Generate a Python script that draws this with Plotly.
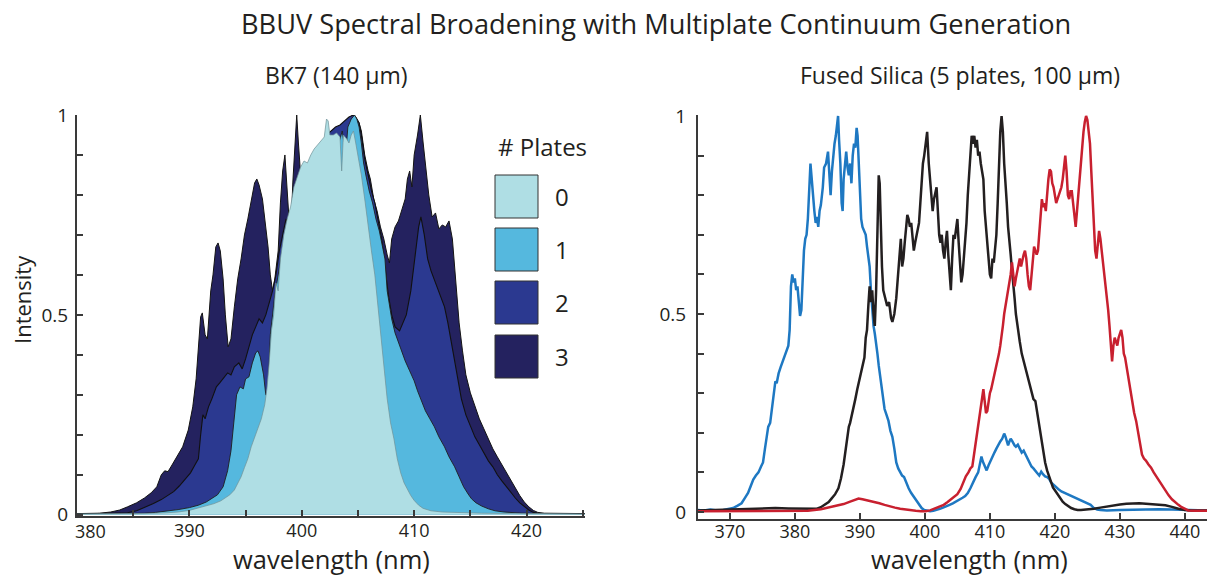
import plotly.graph_objects as go

# ---------------- BK7 (140 um): spectra after 0..3 plates ----------------
wl_p0 = [380.0, 383.0, 386.0, 388.0, 389.0, 390.0, 391.0, 391.6, 392.2, 392.8, 393.2, 393.6, 394.0, 394.3,
         394.6, 394.9, 395.2, 395.5, 395.8, 396.1, 396.4, 396.7, 396.9, 397.1, 397.3, 397.5, 397.7, 397.9,
         398.1, 398.4, 398.7, 399.0, 399.3, 399.6, 399.9, 400.2, 400.5, 400.8, 401.1, 401.4, 401.7, 402.0,
         402.2, 402.35, 402.5, 402.8, 403.1, 403.4, 403.55, 403.7, 404.0, 404.2, 404.4, 404.6, 404.8, 405.0,
         405.3, 405.6, 405.9, 406.2, 406.5, 406.8, 407.0, 407.3, 407.6, 407.9, 408.2, 408.5, 408.8, 409.1,
         409.4, 409.7, 410.0, 410.4, 410.8, 411.5, 412.5, 414.0, 416.0, 419.0, 422.0, 425.2]
int_p0 = [0.002, 0.002, 0.003, 0.005, 0.007, 0.011, 0.018, 0.022, 0.028, 0.035, 0.042, 0.050, 0.062, 0.080,
          0.095, 0.118, 0.140, 0.170, 0.195, 0.215, 0.240, 0.275, 0.315, 0.380, 0.460, 0.500, 0.580, 0.560,
          0.640, 0.700, 0.740, 0.770, 0.820, 0.845, 0.870, 0.885, 0.880, 0.900, 0.915, 0.925, 0.935, 0.945,
          0.990, 0.985, 0.950, 0.950, 0.955, 0.945, 0.860, 0.950, 0.940, 0.930, 0.950, 0.960, 0.930, 0.900,
          0.850, 0.790, 0.720, 0.660, 0.600, 0.520, 0.460, 0.380, 0.290, 0.230, 0.190, 0.140, 0.105, 0.080,
          0.063, 0.048, 0.036, 0.024, 0.016, 0.010, 0.007, 0.005, 0.004, 0.003, 0.002, 0.002]

wl_p1 = [380.0, 384.0, 386.0, 387.0, 388.0, 389.0, 390.0, 390.8, 391.5, 392.0, 392.5, 393.0, 393.4, 393.7,
         394.0, 394.2, 394.5, 394.8, 395.0, 395.3, 395.6, 395.9, 396.1, 396.3, 396.6, 396.8, 397.0, 397.2,
         397.6, 398.0, 398.5, 399.0, 399.5, 400.0, 400.5, 401.0, 401.5, 402.0, 402.5, 403.0, 403.3, 403.6,
         403.9, 404.1, 404.4, 404.7, 404.9, 405.1, 405.3, 405.5, 405.7, 406.0, 406.3, 406.6, 406.9, 407.2,
         407.4, 407.6, 407.8, 408.0, 408.3, 408.6, 408.9, 409.2, 409.6, 410.0, 410.3, 410.7, 411.0, 411.4,
         411.8, 412.2, 412.7, 413.1, 413.6, 414.0, 414.4, 414.8, 415.1, 415.5, 416.0, 416.6, 417.2, 418.0,
         419.6, 422.0, 425.2]
int_p1 = [0.002, 0.003, 0.004, 0.006, 0.009, 0.013, 0.018, 0.024, 0.032, 0.040, 0.050, 0.070, 0.110, 0.160,
          0.240, 0.300, 0.320, 0.315, 0.340, 0.345, 0.380, 0.405, 0.410, 0.395, 0.350, 0.300, 0.300, 0.450,
          0.550, 0.620, 0.700, 0.760, 0.800, 0.840, 0.860, 0.880, 0.900, 0.930, 0.940, 0.950, 0.930, 0.960,
          0.900, 0.970, 0.990, 1.000, 0.990, 0.970, 0.930, 0.880, 0.850, 0.810, 0.780, 0.740, 0.710, 0.670,
          0.640, 0.560, 0.520, 0.490, 0.455, 0.430, 0.410, 0.385, 0.360, 0.335, 0.310, 0.280, 0.260, 0.240,
          0.220, 0.195, 0.170, 0.145, 0.120, 0.095, 0.070, 0.052, 0.040, 0.030, 0.022, 0.015, 0.010, 0.007,
          0.004, 0.003, 0.002]

wl_p2 = [380.0, 383.0, 384.5, 385.3, 386.0, 386.8, 387.5, 388.1, 388.6, 389.1, 389.6, 390.1, 390.5, 390.8,
         391.0, 391.2, 391.4, 391.7, 392.0, 392.4, 392.7, 393.1, 393.4, 393.7, 394.0, 394.4, 394.7, 395.0,
         395.3, 395.6, 395.9, 396.2, 396.5, 396.8, 397.1, 397.4, 397.7, 398.0, 398.3, 398.6, 398.9, 399.2,
         399.5, 399.8, 400.1, 400.4, 400.7, 401.0, 401.3, 401.6, 401.9, 402.2, 402.6, 403.0, 403.4, 403.8,
         404.2, 404.6, 404.9, 405.1, 405.3, 405.6, 405.9, 406.2, 406.5, 406.8, 407.1, 407.4, 407.7, 408.0,
         408.3, 408.7, 409.0, 409.3, 409.7, 410.1, 410.4, 410.6, 410.9, 411.2, 411.5, 411.9, 412.3, 412.7,
         413.0, 413.3, 413.6, 413.9, 414.2, 414.6, 415.0, 415.4, 415.8, 416.2, 416.6, 417.0, 417.4, 417.8,
         418.2, 418.6, 419.0, 419.4, 419.8, 420.2, 420.6, 421.0, 422.0, 425.2]
int_p2 = [0.002, 0.003, 0.005, 0.010, 0.018, 0.028, 0.038, 0.048, 0.058, 0.072, 0.088, 0.105, 0.125, 0.140,
          0.200, 0.250, 0.240, 0.270, 0.290, 0.320, 0.330, 0.345, 0.355, 0.350, 0.370, 0.380, 0.365, 0.390,
          0.420, 0.450, 0.470, 0.490, 0.480, 0.500, 0.530, 0.560, 0.600, 0.660, 0.700, 0.740, 0.720, 0.760,
          0.800, 0.790, 0.800, 0.820, 0.830, 0.840, 0.830, 0.860, 0.890, 0.950, 0.960, 0.970, 0.975, 0.985,
          0.995, 1.000, 0.990, 0.980, 0.950, 0.890, 0.850, 0.810, 0.780, 0.730, 0.690, 0.620, 0.550, 0.500,
          0.470, 0.460, 0.480, 0.500, 0.560, 0.650, 0.720, 0.745, 0.700, 0.640, 0.610, 0.580, 0.550, 0.520,
          0.480, 0.430, 0.380, 0.330, 0.290, 0.250, 0.220, 0.195, 0.175, 0.155, 0.135, 0.120, 0.100, 0.085,
          0.070, 0.055, 0.042, 0.030, 0.020, 0.012, 0.006, 0.004, 0.003, 0.002]

wl_p3 = [380.0, 381.0, 382.0, 383.0, 383.8, 384.5, 385.3, 386.0, 386.6, 387.1, 387.5, 387.8, 388.1, 388.4,
         388.9, 389.4, 389.9, 390.3, 390.6, 390.8, 391.0, 391.15, 391.4, 391.6, 391.9, 392.1, 392.35, 392.55,
         392.75, 393.0, 393.2, 393.45, 393.7, 394.0, 394.3, 394.6, 394.9, 395.2, 395.5, 395.8, 396.0, 396.2,
         396.5, 396.8, 397.0, 397.2, 397.4, 397.6, 397.9, 398.1, 398.3, 398.5, 398.7, 398.9, 399.0, 399.2,
         399.4, 399.55, 399.7, 399.9, 400.1, 400.3, 400.5, 400.7, 400.9, 401.1, 401.3, 401.5, 401.8, 402.1,
         402.5, 403.0, 403.5, 404.0, 404.3, 404.5, 404.8, 405.1, 405.3, 405.6, 405.9, 406.1, 406.4, 406.7,
         407.0, 407.3, 407.6, 407.8, 408.0, 408.3, 408.6, 408.9, 409.2, 409.4, 409.6, 409.8, 410.0, 410.3,
         410.55, 410.8, 411.0, 411.3, 411.6, 411.9, 412.2, 412.5, 412.8, 413.1, 413.4, 413.6, 413.8, 414.0,
         414.3, 414.6, 415.0, 415.4, 415.8, 416.2, 416.6, 417.0, 417.4, 417.8, 418.2, 418.6, 419.0, 419.4,
         419.8, 420.2, 420.6, 421.0, 421.6, 423.0, 425.2]
int_p3 = [0.003, 0.003, 0.004, 0.007, 0.012, 0.020, 0.030, 0.042, 0.055, 0.070, 0.100, 0.110, 0.108, 0.122,
          0.145, 0.170, 0.212, 0.270, 0.340, 0.420, 0.495, 0.505, 0.450, 0.440, 0.560, 0.600, 0.670, 0.680,
          0.660, 0.590, 0.500, 0.420, 0.440, 0.520, 0.590, 0.640, 0.700, 0.740, 0.790, 0.830, 0.840, 0.825,
          0.790, 0.720, 0.670, 0.600, 0.560, 0.590, 0.660, 0.780, 0.860, 0.900, 0.800, 0.700, 0.680, 0.830,
          0.930, 1.000, 0.930, 0.850, 0.820, 0.810, 0.860, 0.870, 0.850, 0.800, 0.830, 0.860, 0.880, 0.900,
          0.920, 0.940, 0.960, 0.980, 0.995, 1.000, 0.995, 0.980, 0.960, 0.900, 0.860, 0.840, 0.790, 0.760,
          0.720, 0.690, 0.650, 0.630, 0.690, 0.720, 0.735, 0.760, 0.790, 0.840, 0.860, 0.820, 0.900, 0.950,
          1.000, 0.930, 0.880, 0.800, 0.745, 0.755, 0.715, 0.725, 0.720, 0.735, 0.690, 0.620, 0.560, 0.480,
          0.410, 0.350, 0.305, 0.270, 0.240, 0.215, 0.190, 0.165, 0.145, 0.125, 0.105, 0.085, 0.065, 0.048,
          0.032, 0.020, 0.011, 0.006, 0.004, 0.003, 0.003]

plate_labels = ["0", "1", "2", "3"]
plate_colors = ["#AFDEE4", "#55B8DE", "#2B3990", "#24225F"]
plate_edges = ["#6E9096", "#1E1E1E", "#111111", "#141414"]
plate_edge_widths = [0.7, 0.9, 1.1, 1.0]

bk7_ticks = [380, 390, 400, 410, 420]

# ---------------- Fused silica (5 plates, 100 um): three spectra ----------------
wl_blue = [365.0, 366.0, 367.0, 368.0, 369.0, 369.8, 370.5, 371.2, 371.8, 372.3, 372.8, 373.2, 373.6, 374.0,
           374.4, 374.8, 375.1, 375.4, 375.7, 375.9, 376.2, 376.5, 376.8, 377.0, 377.2, 377.5, 377.8, 378.1,
           378.4, 378.7, 379.0, 379.2, 379.4, 379.6, 379.8, 380.0, 380.2, 380.4, 380.6, 380.8, 381.0, 381.2,
           381.4, 381.6, 381.8, 382.0, 382.2, 382.4, 382.6, 382.8, 383.0, 383.2, 383.4, 383.6, 383.8, 384.0,
           384.3, 384.5, 384.8, 385.1, 385.3, 385.5, 385.7, 385.9, 386.1, 386.3, 386.5, 386.65, 386.8, 387.0,
           387.2, 387.35, 387.5, 387.7, 387.9, 388.1, 388.3, 388.5, 388.7, 388.9, 389.1, 389.3, 389.5, 389.65,
           389.8, 390.0, 390.2, 390.4, 390.6, 390.9, 391.1, 391.3, 391.5, 391.7, 391.9, 392.1, 392.3, 392.5,
           392.7, 392.9, 393.2, 393.5, 393.8, 394.1, 394.4, 394.7, 395.0, 395.3, 395.6, 395.9, 396.2, 396.5,
           396.8, 397.1, 397.5, 397.9, 398.3, 398.7, 399.1, 399.5, 399.9, 400.3, 400.8, 401.3, 401.8, 402.3,
           402.8, 403.3, 403.8, 404.3, 404.8, 405.3, 405.8, 406.2, 406.6, 407.0, 407.4, 407.8, 408.2, 408.5,
           408.7, 408.9, 409.2, 409.5, 409.8, 410.1, 410.4, 410.7, 411.0, 411.3, 411.6, 411.9, 412.2, 412.4,
           412.6, 412.8, 413.0, 413.2, 413.4, 413.6, 413.8, 414.0, 414.3, 414.6, 414.9, 415.2, 415.5, 415.8,
           416.1, 416.4, 416.7, 417.0, 417.3, 417.6, 417.9, 418.2, 418.5, 418.8, 419.1, 419.4, 419.7, 420.0,
           420.5, 421.0, 421.5, 422.0, 422.5, 423.0, 423.5, 424.0, 424.5, 425.0, 425.5, 426.0, 426.5, 427.0,
           428.0, 430.0, 432.0, 434.0, 436.0, 438.0, 440.0, 442.0, 443.4]
int_blue = [0.005, 0.004, 0.006, 0.004, 0.005, 0.007, 0.010, 0.016, 0.022, 0.035, 0.048, 0.065, 0.082, 0.092,
            0.100, 0.115, 0.125, 0.160, 0.200, 0.215, 0.225, 0.260, 0.300, 0.330, 0.325, 0.350, 0.365, 0.380,
            0.395, 0.405, 0.420, 0.460, 0.570, 0.600, 0.580, 0.590, 0.560, 0.570, 0.530, 0.495, 0.510, 0.600,
            0.660, 0.690, 0.700, 0.740, 0.820, 0.880, 0.840, 0.790, 0.760, 0.730, 0.745, 0.720, 0.760, 0.775,
            0.820, 0.870, 0.880, 0.910, 0.840, 0.800, 0.860, 0.900, 0.930, 0.950, 0.980, 1.000, 0.940, 0.880,
            0.780, 0.760, 0.840, 0.880, 0.910, 0.870, 0.850, 0.880, 0.830, 0.900, 0.930, 0.920, 0.970, 0.950,
            0.880, 0.800, 0.740, 0.720, 0.710, 0.700, 0.670, 0.650, 0.620, 0.560, 0.500, 0.470, 0.450, 0.430,
            0.400, 0.370, 0.330, 0.290, 0.260, 0.245, 0.230, 0.205, 0.190, 0.160, 0.125, 0.110, 0.100, 0.092,
            0.088, 0.075, 0.060, 0.048, 0.038, 0.028, 0.018, 0.010, 0.005, 0.003, 0.002, 0.003, 0.005, 0.008,
            0.011, 0.014, 0.018, 0.022, 0.026, 0.031, 0.036, 0.040, 0.048, 0.060, 0.075, 0.088, 0.100, 0.130,
            0.140, 0.128, 0.115, 0.105, 0.118, 0.130, 0.140, 0.150, 0.160, 0.170, 0.178, 0.185, 0.198, 0.190,
            0.175, 0.168, 0.178, 0.185, 0.180, 0.172, 0.168, 0.165, 0.170, 0.160, 0.150, 0.155, 0.145, 0.132,
            0.122, 0.115, 0.110, 0.105, 0.098, 0.092, 0.102, 0.095, 0.090, 0.088, 0.084, 0.075, 0.070, 0.066,
            0.058, 0.052, 0.048, 0.044, 0.040, 0.036, 0.032, 0.030, 0.026, 0.022, 0.018, 0.010, 0.006, 0.005,
            0.004, 0.005, 0.006, 0.006, 0.007, 0.006, 0.005, 0.004, 0.004]

wl_black = [365.0, 367.0, 369.0, 371.0, 373.0, 375.0, 377.0, 379.0, 381.0, 382.5, 383.3, 384.0, 384.6, 385.2,
            385.7, 386.2, 386.7, 387.1, 387.5, 387.8, 388.1, 388.3, 388.5, 388.8, 389.0, 389.3, 389.6, 389.9,
            390.2, 390.5, 390.7, 390.9, 391.1, 391.3, 391.5, 391.7, 391.9, 392.1, 392.3, 392.5, 392.7, 392.9,
            393.05, 393.2, 393.4, 393.6, 393.9, 394.2, 394.5, 394.8, 395.0, 395.3, 395.6, 395.9, 396.1, 396.3,
            396.5, 396.7, 396.9, 397.1, 397.3, 397.5, 397.7, 397.9, 398.1, 398.3, 398.5, 398.7, 398.9, 399.1,
            399.3, 399.5, 399.7, 399.9, 400.1, 400.35, 400.6, 400.8, 401.0, 401.2, 401.4, 401.6, 401.8, 402.0,
            402.2, 402.4, 402.6, 402.8, 403.0, 403.2, 403.4, 403.6, 403.8, 404.0, 404.2, 404.4, 404.6, 404.8,
            405.0, 405.2, 405.4, 405.6, 405.8, 406.0, 406.2, 406.4, 406.6, 406.8, 407.0, 407.2, 407.4, 407.6,
            407.8, 408.0, 408.2, 408.4, 408.6, 408.8, 409.0, 409.2, 409.4, 409.6, 409.8, 410.0, 410.2, 410.4,
            410.6, 410.8, 411.0, 411.2, 411.4, 411.6, 411.8, 412.0, 412.2, 412.4, 412.6, 412.8, 413.0, 413.2,
            413.4, 413.6, 413.8, 414.0, 414.3, 414.6, 414.9, 415.2, 415.5, 415.8, 416.1, 416.4, 416.7, 417.0,
            417.3, 417.6, 417.9, 418.2, 418.5, 418.8, 419.1, 419.4, 419.7, 420.0, 420.4, 420.8, 421.2, 421.6,
            422.0, 422.5, 423.0, 423.5, 424.0, 425.0, 426.0, 427.0, 428.0, 429.0, 430.0, 431.0, 432.0, 433.0,
            434.0, 435.0, 436.0, 437.0, 438.0, 439.0, 440.0, 441.0, 443.4]
int_black = [0.004, 0.005, 0.006, 0.007, 0.008, 0.009, 0.010, 0.009, 0.008, 0.007, 0.008, 0.012, 0.018, 0.025,
             0.035, 0.045, 0.060, 0.085, 0.120, 0.160, 0.195, 0.215, 0.225, 0.245, 0.260, 0.285, 0.310, 0.330,
             0.350, 0.370, 0.390, 0.440, 0.460, 0.520, 0.570, 0.530, 0.560, 0.500, 0.470, 0.560, 0.700, 0.850,
             0.830, 0.720, 0.620, 0.560, 0.540, 0.520, 0.530, 0.490, 0.480, 0.500, 0.540, 0.600, 0.650, 0.690,
             0.620, 0.640, 0.680, 0.720, 0.750, 0.740, 0.720, 0.730, 0.700, 0.660, 0.680, 0.700, 0.710, 0.730,
             0.780, 0.840, 0.880, 0.900, 0.930, 0.960, 0.880, 0.840, 0.780, 0.760, 0.790, 0.810, 0.820, 0.760,
             0.700, 0.680, 0.700, 0.660, 0.640, 0.680, 0.710, 0.650, 0.600, 0.560, 0.640, 0.700, 0.690, 0.720,
             0.740, 0.680, 0.620, 0.580, 0.600, 0.640, 0.670, 0.730, 0.800, 0.850, 0.920, 0.950, 0.930, 0.950,
             0.920, 0.940, 0.900, 0.910, 0.880, 0.860, 0.840, 0.760, 0.720, 0.690, 0.640, 0.600, 0.590, 0.640,
             0.630, 0.660, 0.700, 0.780, 0.880, 0.960, 1.000, 0.960, 0.880, 0.840, 0.780, 0.720, 0.690, 0.650,
             0.610, 0.580, 0.540, 0.500, 0.460, 0.430, 0.400, 0.380, 0.360, 0.340, 0.320, 0.300, 0.285, 0.280,
             0.250, 0.210, 0.180, 0.150, 0.125, 0.105, 0.090, 0.075, 0.062, 0.055, 0.045, 0.035, 0.026, 0.020,
             0.015, 0.010, 0.007, 0.005, 0.005, 0.006, 0.008, 0.011, 0.014, 0.017, 0.019, 0.021, 0.022, 0.022,
             0.021, 0.020, 0.019, 0.017, 0.013, 0.008, 0.005, 0.004, 0.004]

wl_red = [365.0, 368.0, 371.0, 374.0, 377.0, 380.0, 382.0, 384.0, 385.5, 386.5, 387.5, 388.5, 389.2, 389.8,
          390.4, 391.0, 391.6, 392.2, 393.0, 393.8, 394.6, 395.4, 396.2, 397.0, 397.8, 398.6, 399.4, 400.1,
          400.8, 401.5, 402.2, 402.9, 403.5, 404.0, 404.5, 405.0, 405.5, 405.9, 406.3, 406.7, 407.0, 407.3,
          407.6, 407.9, 408.2, 408.5, 408.8, 409.0, 409.2, 409.4, 409.6, 409.8, 410.0, 410.2, 410.4, 410.6,
          410.8, 411.0, 411.2, 411.4, 411.6, 411.8, 412.0, 412.2, 412.4, 412.6, 412.8, 413.0, 413.2, 413.4,
          413.6, 413.8, 414.0, 414.2, 414.4, 414.6, 414.8, 415.0, 415.2, 415.4, 415.6, 415.8, 416.0, 416.2,
          416.4, 416.6, 416.8, 417.0, 417.2, 417.4, 417.6, 417.8, 418.0, 418.2, 418.4, 418.6, 418.8, 419.0,
          419.2, 419.4, 419.6, 419.8, 420.0, 420.2, 420.4, 420.6, 420.8, 421.0, 421.2, 421.4, 421.6, 421.8,
          422.0, 422.2, 422.4, 422.6, 422.8, 423.0, 423.2, 423.4, 423.6, 423.8, 424.0, 424.2, 424.4, 424.6,
          424.8, 425.0, 425.2, 425.4, 425.6, 425.8, 426.0, 426.2, 426.4, 426.6, 426.8, 427.0, 427.2, 427.4,
          427.6, 427.8, 428.0, 428.2, 428.4, 428.6, 428.8, 429.0, 429.2, 429.4, 429.6, 429.8, 430.0, 430.2,
          430.4, 430.6, 430.8, 431.0, 431.3, 431.6, 431.9, 432.2, 432.5, 432.8, 433.1, 433.4, 433.7, 434.0,
          434.4, 434.8, 435.2, 435.6, 436.0, 436.5, 437.0, 437.5, 438.0, 438.5, 439.0, 439.5, 440.0, 440.5,
          441.5, 443.4]
int_red = [0.002, 0.002, 0.003, 0.003, 0.003, 0.002, 0.003, 0.007, 0.012, 0.016, 0.020, 0.026, 0.030, 0.034,
           0.032, 0.030, 0.028, 0.026, 0.022, 0.018, 0.014, 0.011, 0.008, 0.006, 0.004, 0.003, 0.002, 0.002,
           0.004, 0.008, 0.013, 0.018, 0.025, 0.032, 0.038, 0.045, 0.058, 0.075, 0.090, 0.100, 0.110, 0.115,
           0.150, 0.190, 0.230, 0.255, 0.290, 0.310, 0.280, 0.250, 0.255, 0.280, 0.300, 0.310, 0.325, 0.340,
           0.355, 0.370, 0.380, 0.400, 0.420, 0.440, 0.470, 0.500, 0.520, 0.530, 0.550, 0.580, 0.600, 0.630,
           0.600, 0.570, 0.590, 0.610, 0.620, 0.640, 0.620, 0.640, 0.650, 0.660, 0.640, 0.600, 0.570, 0.560,
           0.600, 0.640, 0.670, 0.660, 0.650, 0.660, 0.700, 0.750, 0.790, 0.770, 0.780, 0.760, 0.810, 0.840,
           0.865, 0.860, 0.830, 0.820, 0.800, 0.780, 0.790, 0.800, 0.810, 0.820, 0.840, 0.880, 0.900, 0.860,
           0.800, 0.790, 0.810, 0.810, 0.780, 0.740, 0.720, 0.760, 0.800, 0.830, 0.880, 0.930, 0.960, 0.985,
           1.000, 0.990, 0.960, 0.930, 0.860, 0.780, 0.710, 0.660, 0.640, 0.680, 0.710, 0.690, 0.660, 0.640,
           0.610, 0.580, 0.550, 0.510, 0.470, 0.410, 0.380, 0.420, 0.440, 0.430, 0.420, 0.440, 0.450, 0.460,
           0.440, 0.400, 0.390, 0.370, 0.330, 0.300, 0.280, 0.250, 0.230, 0.200, 0.170, 0.145, 0.135, 0.130,
           0.120, 0.112, 0.100, 0.090, 0.080, 0.065, 0.052, 0.042, 0.032, 0.024, 0.018, 0.012, 0.007, 0.004,
           0.003, 0.003]

line_series = [(wl_blue, int_blue, "#1E78C2"), (wl_black, int_black, "#231F20"), (wl_red, int_red, "#C8202F")]

FONT = "Open Sans, Noto Sans, DejaVu Sans, sans-serif"
TXT = "#231F20"
AX = "#3A3A3A"
W, H = 1207, 578

fig = go.Figure()

# filled spectra: widest (3 plates) underneath, 0 plates on top
plate_series = [(wl_p0, int_p0), (wl_p1, int_p1), (wl_p2, int_p2), (wl_p3, int_p3)]
for k in [3, 2, 1, 0]:
    xs, ys = plate_series[k]
    fig.add_trace(go.Scatter(
        x=xs, y=ys, mode="lines", fill="tozeroy", fillcolor=plate_colors[k],
        line=dict(color=plate_edges[k], width=plate_edge_widths[k]),
        name=plate_labels[k], showlegend=False, xaxis="x", yaxis="y"))

for xs, ys, col in line_series:
    fig.add_trace(go.Scatter(x=xs, y=ys, mode="lines", line=dict(color=col, width=2.5),
                             showlegend=False, xaxis="x2", yaxis="y2"))


def px_x(p):
    return p / W


def px_y(p):
    return 1 - p / H


def axis_style(size):
    return dict(ticks="inside", ticklen=6, tickwidth=1.5, tickcolor=AX, showline=True,
                linecolor=AX, linewidth=2, showgrid=False, zeroline=False, automargin=False,
                tickfont=dict(family=FONT, size=size, color=TXT))


minor_x = dict(dtick=5, tick0=380, ticks="inside", ticklen=6, tickwidth=1.5, tickcolor=AX)
minor_y = dict(dtick=0.1, tick0=0, ticks="inside", ticklen=6, tickwidth=1.5, tickcolor=AX)

# the first BK7 wavelength label sits just clear of the "0" on the intensity axis,
# so it is drawn separately a little to the right of its tick
bk7_ticktext = [""] + [str(v) for v in bk7_ticks[1:]]

fig.update_layout(
    template="none", showlegend=False,
    width=W, height=H, margin=dict(l=0, r=0, t=0, b=0, pad=0, autoexpand=False),
    paper_bgcolor="white", plot_bgcolor="white",
    xaxis=dict(domain=[px_x(77), px_x(585)], range=[380, 425.2], anchor="y",
               tickvals=bk7_ticks, ticktext=bk7_ticktext, ticklabelstandoff=-3, minor=minor_x,
               **axis_style(18)),
    yaxis=dict(domain=[px_y(516), px_y(115)], range=[-0.003, 1.0], anchor="x",
               tickvals=[0, 0.5, 1], ticktext=["0", "0.5", "1"], ticklabelstandoff=3, minor=minor_y,
               **axis_style(19)),
    xaxis2=dict(domain=[px_x(698), 1.0], range=[365.1, 443.4], anchor="y2",
                tickvals=[370, 380, 390, 400, 410, 420, 430, 440], ticklabelstandoff=-5,
                **axis_style(18)),
    yaxis2=dict(domain=[px_y(519), px_y(115)], range=[-0.0177, 1.0025], anchor="x2",
                tickvals=[0, 0.5, 1], ticktext=["0", "0.5", "1"], ticklabelstandoff=6, minor=minor_y,
                **axis_style(19)),
)

ann = []


def text(x, y, s, size, angle=0, yanchor="middle"):
    ann.append(dict(x=px_x(x), y=px_y(y), xref="paper", yref="paper", text=s, showarrow=False,
                    textangle=angle, xanchor="center", yanchor=yanchor,
                    font=dict(family=FONT, size=size, color=TXT)))


text(656, 23, "BBUV Spectral Broadening with Multiplate Continuum Generation", 27.2)
text(336, 75, "BK7 (140 µm)", 23)
text(960, 75, "Fused Silica (5 plates, 100 µm)", 23)
text(22, 300, "Intensity", 22, angle=-90)
text(331, 578, "wavelength (nm)", 25.5, yanchor="bottom")
text(969, 578, "wavelength (nm)", 25.5, yanchor="bottom")
text(542, 146, "# Plates", 24)
text(90, 531, str(bk7_ticks[0]), 18)

# colour key for the plate count
box_tops = [175, 228, 281, 335]
shapes = []
for k, top in enumerate(box_tops):
    shapes.append(dict(type="rect", xref="paper", yref="paper",
                       x0=px_x(495), x1=px_x(538), y0=px_y(top + 43), y1=px_y(top),
                       fillcolor=plate_colors[k], line=dict(color="#333333", width=1)))
    text(562, top + 21, plate_labels[k], 24)

fig.update_layout(annotations=ann, shapes=shapes)

# the figure is sized to the whole page, so drop the default body margin
fig.write_html("out.html",
               post_script="document.body.style.margin='0';document.body.style.overflow='hidden';")
